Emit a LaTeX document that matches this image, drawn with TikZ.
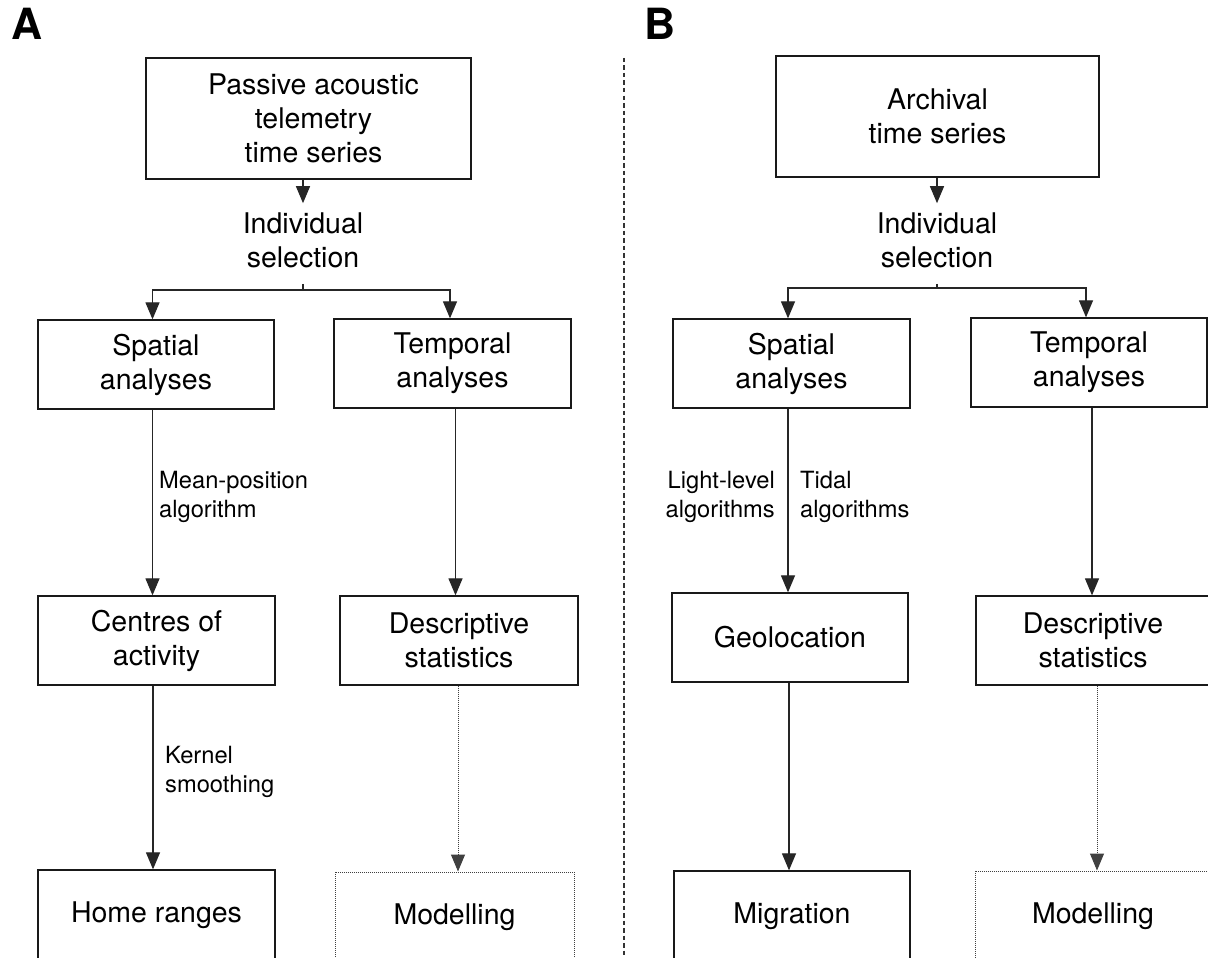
\documentclass[tikz,border=0pt]{standalone}
\usepackage{fontspec}
\setmainfont{TeX Gyre Heros}
\usetikzlibrary{arrows.meta}
\newcommand{\boxfont}{\fontsize{28.5}{34}\selectfont}
\newcommand{\labfont}{\fontsize{23.7}{29}\selectfont}
\newcommand{\panelfont}{\fontsize{43}{43}\selectfont\bfseries}
\begin{document}
\begin{tikzpicture}[x=1pt,y=-1pt,
  box/.style={draw=black!90, line width=1.3pt, align=center, inner sep=0pt, font=\boxfont},
  dotbox/.style={draw=black!75, line width=1pt, dash pattern=on 1pt off 1pt, align=center, inner sep=0pt, font=\boxfont},
  plain/.style={align=center, font=\boxfont, inner xsep=0pt, inner ysep=9pt},
  lab/.style={font=\labfont, inner sep=0pt},
  panel/.style={font=\panelfont, inner sep=0pt},
  conn/.style={line width=1.25pt, draw=black!85},
  tip/.style={-{Triangle[length=17pt,width=14pt]}},
  arr/.style={conn, tip},
  dotarr/.style={line width=1pt, draw=black!75, dash pattern=on 1pt off 1pt, tip},
  divider/.style={line width=1.2pt, draw=black!80, dash pattern=on 4.5pt off 3pt}]
\clip (0,0) rectangle (1208,958);
\fill[white] (0,0) rectangle (1208,958);

% panel letters
\node[panel, anchor=base west] (labA) at (11,40) {A};
\node[panel, anchor=base west] (labB) at (644,40) {B};

% divider
\coordinate (divtop) at (624,58);
\coordinate (divbot) at (624,960);
\draw[divider] (divtop) -- (divbot);

% ---------------- Panel A ----------------
\node[box, minimum width=325pt, minimum height=121pt] (topA) at (308.5,118.5)
  {\hspace*{10pt}Passive acoustic\\\hspace*{10pt}telemetry\\\hspace*{10pt}time series};
\node[plain] (indA) at (303,240) {Individual\\selection};
\coordinate (brA) at (303,290);
\node[box, minimum width=236pt, minimum height=89pt] (spA) at (156,364.5) {Spatial\\analyses};
\node[box, minimum width=237pt, minimum height=89pt] (tpA) at (452.5,363.5) {Temporal\\analyses};
\node[box, minimum width=237pt, minimum height=89pt] (ceA) at (156.5,640.5) {Centres of\\activity};
\node[box, minimum width=238pt, minimum height=89pt] (dsA) at (459,640.5) {Descriptive\\statistics};
\node[box, minimum width=237pt, minimum height=90pt] (hrA) at (156.5,915) {Home ranges};
\node[dotbox, minimum width=239pt, minimum height=90pt] (moA) at (454.5,917) {Modelling};

\node[lab, anchor=west, align=left] (mpA) at (159,497) {Mean-position\\algorithm};
\node[lab, anchor=west, align=left] (ksA) at (165,772) {Kernel\\smoothing};

\draw[arr] (topA.south -| indA.north) -- (indA.north);
\draw[conn, shorten <=7pt] (indA.south) -- (brA);
\draw[arr] (brA) -| ([xshift=-3.5pt]spA.north);
\draw[arr] (brA) -| ([xshift=-2.5pt]tpA.north);
\draw[arr] ([xshift=-3.5pt]spA.south) -- ([xshift=-3.5pt]spA.south |- ceA.north);
\draw[arr] ([xshift=-3.5pt]ceA.south) -- ([xshift=-3.5pt]ceA.south |- hrA.north);
\draw[arr] ([xshift=3pt]tpA.south) -- ([xshift=3pt]tpA.south |- dsA.north);
\draw[dotarr] ([xshift=-1pt]dsA.south) -- ([xshift=-1pt]dsA.south |- moA.north);

% ---------------- Panel B ----------------
\node[box, minimum width=323pt, minimum height=121pt] (topB) at (937.5,116.5) {Archival\\time series};
\node[plain] (indB) at (937,240) {Individual\\selection};
\coordinate (brB) at (937,288);
\node[box, minimum width=237pt, minimum height=89pt] (spB) at (791.5,363.5) {Spatial\\analyses};
\node[box, minimum width=236pt, minimum height=89pt] (tpB) at (1089,362.5) {Temporal\\analyses};
\node[box, minimum width=236pt, minimum height=89pt] (geoB) at (790,637.5) {Geolocation};
\node[box, minimum width=234pt, minimum height=89pt] (dsB) at (1093,640.5) {Descriptive\\statistics};
\node[box, minimum width=236pt, minimum height=90pt] (miB) at (792,916) {Migration};
\node[dotbox, minimum width=236pt, minimum height=90pt] (moB) at (1093,916) {Modelling};

\node[lab, anchor=east, align=right] (llB) at (775,497) {Light-level\\algorithms};
\node[lab, anchor=west, align=left] (tdB) at (800,497) {Tidal\\algorithms};

\draw[arr] (topB.south -| indB.north) -- (indB.north);
\draw[conn, shorten <=7pt] (indB.south) -- (brB);
\draw[arr] (brB) -| ([xshift=-3.5pt]spB.north);
\draw[arr] (brB) -| ([xshift=-3pt]tpB.north);
\draw[arr] ([xshift=-3.5pt]spB.south) -- ([xshift=-3.5pt]spB.south |- geoB.north);
\draw[arr] ([xshift=-1pt]geoB.south) -- ([xshift=-1pt]geoB.south |- miB.north);
\draw[arr] ([xshift=3pt]tpB.south) -- ([xshift=3pt]tpB.south |- dsB.north);
\draw[dotarr] ([xshift=4pt]dsB.south) -- ([xshift=4pt]dsB.south |- moB.north);
\end{tikzpicture}
\end{document}
